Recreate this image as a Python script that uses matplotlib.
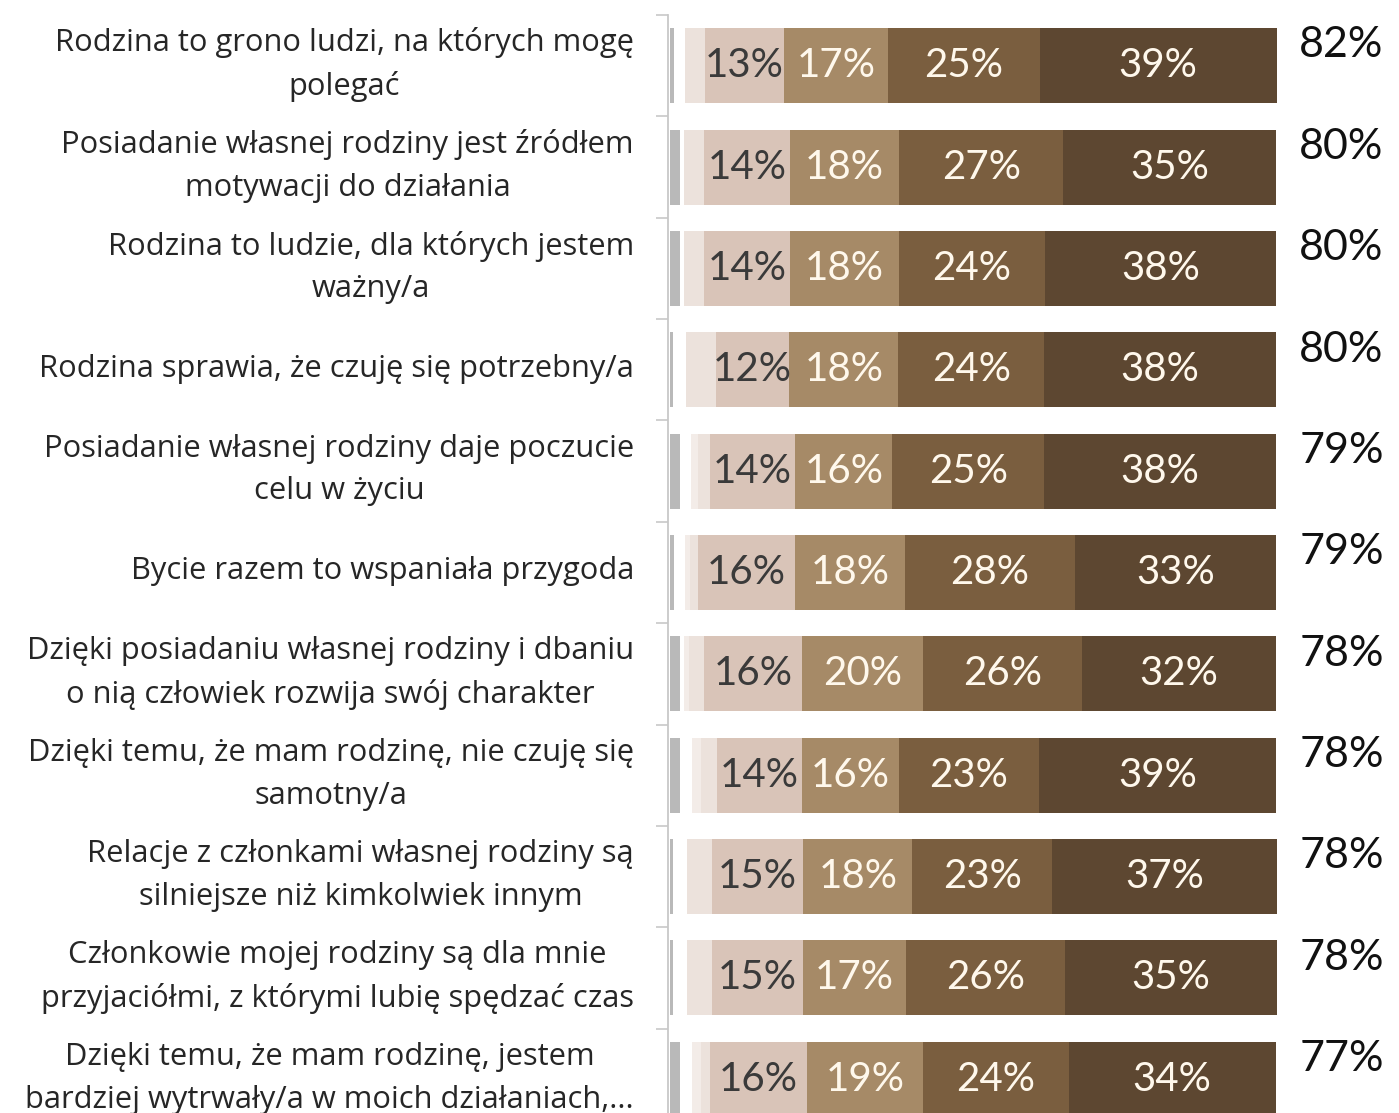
import matplotlib
matplotlib.use("Agg")
import matplotlib.pyplot as plt

categories = [
    "Rodzina to grono ludzi, na których mogę\npolegać",
    "Posiadanie własnej rodziny jest źródłem\nmotywacji do działania",
    "Rodzina to ludzie, dla których jestem\nważny/a",
    "Rodzina sprawia, że czuję się potrzebny/a",
    "Posiadanie własnej rodziny daje poczucie\ncelu w życiu",
    "Bycie razem to wspaniała przygoda",
    "Dzięki posiadaniu własnej rodziny i dbaniu\no nią człowiek rozwija swój charakter",
    "Dzięki temu, że mam rodzinę, nie czuję się\nsamotny/a",
    "Relacje z członkami własnej rodziny są\nsilniejsze niż kimkolwiek innym",
    "Członkowie mojej rodziny są dla mnie\nprzyjaciółmi, z którymi lubię spędzać czas",
    "Dzięki temu, że mam rodzinę, jestem\nbardziej wytrwały/a w moich działaniach,...",
]

trudno = [0.7, 1.6, 1.6, 0.5, 1.6, 0.7, 1.6, 1.6, 0.5, 0.5, 1.6]
s1 = [1.8, 0.8, 0.8, 2.2, 1.9, 1.8, 0.8, 2.0, 2.3, 2.3, 2.0]
s2 = [0.0, 0.0, 0.0, 0.0, 1.1, 0.8, 0.8, 1.5, 0.0, 0.0, 1.5]
s3 = [3.3, 3.3, 3.3, 4.9, 2.0, 1.3, 2.5, 2.6, 4.1, 4.1, 1.5]
s4 = [13, 14, 14, 12, 14, 16, 16, 14, 15, 15, 16]
s5 = [17, 18, 18, 18, 16, 18, 20, 16, 18, 17, 19]
s6 = [25, 27, 24, 24, 25, 28, 26, 23, 23, 26, 24]
s7 = [39, 35, 38, 38, 38, 33, 32, 39, 37, 35, 34]
totals = [82, 80, 80, 80, 79, 79, 78, 78, 78, 78, 77]

series = [trudno, s1, s2, s3, s4, s5, s6, s7]
colors = ["#B9B9B9", "#FFFFFF", "#F3ECE8", "#ECE2DC", "#D9C4B8",
          "#A68A67", "#7A5E3F", "#5D4731"]
labelled = {4: "#3A3A3A", 5: "#FFF8EC", 6: "#FFF8EC", 7: "#FFF8EC"}

W, H = 1399, 1113
fig = plt.figure(figsize=(W / 100, H / 100), dpi=100)
fig.patch.set_facecolor("white")

x_left_px, x_right_px = 668, 1278
top_px, bot_px = 15, 1130
ax = fig.add_axes([x_left_px / W, 1 - bot_px / H,
                   (x_right_px - x_left_px) / W, (bot_px - top_px) / H])

n = len(categories)
ypos = list(range(n))
left = [0.0] * n
for k, vals in enumerate(series):
    ax.barh(ypos, vals, left=left, height=0.74, color=colors[k],
            edgecolor="none", zorder=2)
    if k in labelled:
        for i in range(n):
            ax.text(left[i] + vals[i] / 2, ypos[i], f"{vals[i]}%",
                    ha="center", va="center", fontsize=29,
                    family="Lato", color=labelled[k], zorder=3)
    left = [a + b for a, b in zip(left, vals)]

for i in range(n):
    ax.text(103.5, ypos[i] - 0.2, f"{totals[i]}%", ha="left", va="center",
            fontsize=31, family="Lato", color="#111111", clip_on=False)
    ax.text(-5.9, ypos[i] - 0.01, categories[i], ha="right", va="center",
            multialignment="center", fontsize=22.2, family="Open Sans",
            color="#262626", linespacing=1.55, clip_on=False)

ax.set_xlim(-0.3, 100)
ax.set_ylim(n - 0.5, -0.5)
ax.set_xticks([])
ax.set_yticks([b - 0.5 for b in range(n + 1)])
ax.set_yticklabels([])
ax.tick_params(axis="y", length=9, width=1.2, color="#C8C8C8", direction="out")
for s in ["top", "right", "bottom"]:
    ax.spines[s].set_visible(False)
ax.spines["left"].set_color("#C8C8C8")
ax.spines["left"].set_linewidth(1.3)
ax.set_facecolor("none")

fig.savefig("out.png", dpi=100, facecolor="white")
